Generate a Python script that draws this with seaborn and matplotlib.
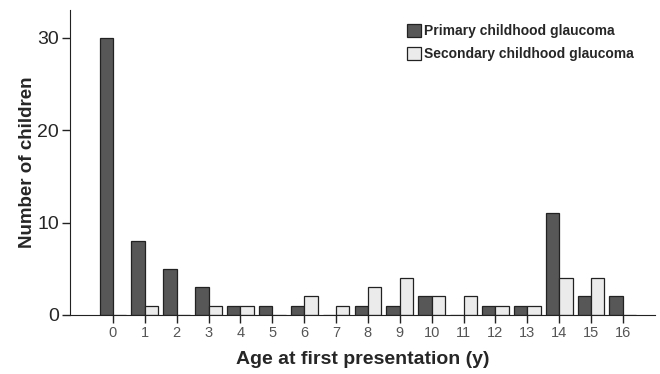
import pandas as pd
import seaborn as sns
import matplotlib.pyplot as plt

ages = list(range(17))
primary = [30, 8, 5, 3, 1, 1, 1, 0, 1, 1, 2, 0, 1, 1, 11, 2, 2]
secondary = [0, 1, 0, 1, 1, 0, 2, 1, 3, 4, 2, 2, 1, 1, 4, 4, 0]
groups = ["Primary childhood glaucoma", "Secondary childhood glaucoma"]

df = pd.DataFrame({
    "age": [str(a) for a in ages] * 2,
    "count": primary + secondary,
    "group": [groups[0]] * len(ages) + [groups[1]] * len(ages),
})

sns.set_style("white")
plt.rcParams["font.family"] = ["Liberation Sans", "DejaVu Sans"]

fig = plt.figure(figsize=(6.6, 3.74), dpi=100)
ax = fig.add_axes([0.106, 0.158, 0.886, 0.815])

sns.barplot(data=df, x="age", y="count", hue="group", order=[str(a) for a in ages],
            hue_order=groups, palette=["#575757", "#ebebeb"], width=0.84,
            edgecolor="#222222", linewidth=0.9, ax=ax, errorbar=None)

ax.set_xlim(-1.35, 17.0)
ax.set_ylim(0, 33)
ax.set_yticks([0, 10, 20, 30])
for s in ["top", "right"]:
    ax.spines[s].set_visible(False)
ax.spines["left"].set_color("#222222")
ax.spines["bottom"].set_color("#222222")
ax.tick_params(axis="y", direction="out", length=6, width=1, color="#222222",
               labelsize=14, pad=2, left=True)
ax.tick_params(axis="x", direction="out", length=6, width=1, color="#222222",
               labelsize=10.5, labelcolor="#555555", pad=2, bottom=True)

ax.set_xlabel("Age at first presentation (y)", fontsize=14, fontweight="bold", labelpad=8)
ax.set_ylabel("Number of children", fontsize=13.5, fontweight="bold", labelpad=1)

leg = ax.legend(loc="upper right", bbox_to_anchor=(0.985, 0.995), frameon=False,
                prop={"weight": "bold", "size": 10}, handlelength=1.0,
                handleheight=1.0, handletextpad=0.2, labelspacing=0.65)

plt.savefig("out.png", dpi=100)
